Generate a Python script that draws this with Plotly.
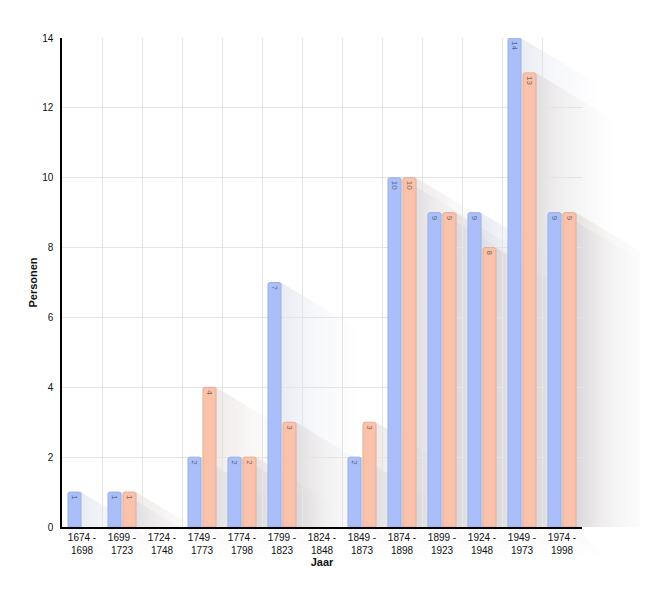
import plotly.graph_objects as go

categories = ["1674 -<br>1698", "1699 -<br>1723", "1724 -<br>1748", "1749 -<br>1773",
              "1774 -<br>1798", "1799 -<br>1823", "1824 -<br>1848", "1849 -<br>1873",
              "1874 -<br>1898", "1899 -<br>1923", "1924 -<br>1948", "1949 -<br>1973",
              "1974 -<br>1998"]
series_a = [1, 1, 0, 2, 2, 7, 0, 2, 10, 9, 9, 14, 9]
series_b = [0, 1, 0, 4, 2, 3, 0, 3, 10, 9, 8, 13, 9]
y_ticks = [0, 2, 4, 6, 8, 10, 12, 14]

# geometry (page pixels; page has 8px body margin)
W, H = 650, 601
PLOT_L, PLOT_R, PLOT_T, PLOT_B = 62, 582, 38, 527   # main plotting area on page
FULL_R, FULL_B = 640, 585                          # extended area for shadows
ml, mt = PLOT_L - 8, PLOT_T - 8
mr, mb = (W + 8) - FULL_R, (H + 8) - FULL_B
full_w, full_h = FULL_R - PLOT_L, FULL_B - PLOT_T
n = len(categories)
px_per_cat = (PLOT_R - PLOT_L) / n
px_per_unit = (PLOT_B - PLOT_T) / 14.0
dom_x_end = (PLOT_R - PLOT_L) / full_w
dom_y_start = (FULL_B - PLOT_B) / full_h
x_full_range = [-0.5, -0.5 + full_w / px_per_cat]
y_full_range = [14 - full_h / px_per_unit, 14]

bargap, bargroupgap = 0.25, 0.13
slot = (1 - bargap) / 2
bw = slot * (1 - bargroupgap)

fig = go.Figure()

# shadows (on hidden full-size axes x/y, drawn beneath the main subplot)
def add_shadow(xl, xr, v, rgb):
    if not v:
        return
    s = 0.6 * px_per_cat / px_per_unit       # y-units per x-unit of slope
    L = 80 / px_per_cat                       # fade length (x units)
    top_end = v - s * L
    if top_end >= 0:
        xs = [xr, xr + L, xr + L, xr, xr]
        ys = [v, top_end, 0, 0, v]
    else:
        xs = [xr, xr + v / s, xr, xr]
        ys = [v, 0, 0, v]
    fig.add_trace(go.Scatter(
        x=xs, y=ys, mode="lines", fill="toself", line=dict(width=0),
        fillgradient=dict(type="horizontal", start=xr, stop=xr + L, colorscale=[
            [0, f"rgba({rgb},0.20)"], [0.4, f"rgba({rgb},0.08)"], [1, f"rgba({rgb},0)"]]),
        xaxis="x", yaxis="y", showlegend=False, hoverinfo="skip"))
    # faint projection below the axis
    d = 0.75
    hb = 0.9
    fig.add_trace(go.Scatter(
        x=[xl, xr, xr + d, xl + d, xl], y=[0, 0, -hb, -hb, 0],
        mode="lines", fill="toself", line=dict(width=0),
        fillgradient=dict(type="vertical", start=-hb, stop=0, colorscale=[
            [0, f"rgba({rgb},0)"], [1, f"rgba({rgb},0.07)"]]),
        xaxis="x", yaxis="y", showlegend=False, hoverinfo="skip"))

for i in range(n):
    ca = i - slot / 2
    cb = i + slot / 2
    add_shadow(ca - bw / 2, ca + bw / 2, series_a[i], "150,160,200")
    add_shadow(cb - bw / 2, cb + bw / 2, series_b[i], "170,150,140")

xs_idx = list(range(n))

def vals(v):
    return [x if x else None for x in v]

def labels(v):
    return [str(x) if x else "" for x in v]

fig.add_trace(go.Bar(
    x=xs_idx, y=vals(series_a), text=labels(series_a), xaxis="x2", yaxis="y2",
    marker=dict(color="#aabff9", line=dict(color="#9cb0e4", width=1), cornerradius=2),
    textposition="inside", insidetextanchor="end", textangle=90,
    textfont=dict(size=8, color="#5b6484"), showlegend=False, hoverinfo="skip"))
fig.add_trace(go.Bar(
    x=xs_idx, y=vals(series_b), text=labels(series_b), xaxis="x2", yaxis="y2",
    marker=dict(color="#fbc2ab", line=dict(color="#e2ae9b", width=1), cornerradius=2),
    textposition="inside", insidetextanchor="end", textangle=90,
    textfont=dict(size=8, color="#806458"), showlegend=False, hoverinfo="skip"))

fig.update_layout(
    width=W, height=H,
    margin=dict(l=ml, r=mr, t=mt, b=mb, autoexpand=False),
    paper_bgcolor="white", plot_bgcolor="rgba(0,0,0,0)",
    font=dict(family="Liberation Sans, Arial, sans-serif", size=10, color="#111"),
    barmode="group", bargap=bargap, bargroupgap=bargroupgap,
    uniformtext=dict(minsize=7, mode="show"),
    xaxis=dict(domain=[0, 1], range=x_full_range, visible=False, fixedrange=True),
    yaxis=dict(domain=[0, 1], range=y_full_range, visible=False, fixedrange=True),
    xaxis2=dict(
        domain=[0, dom_x_end], anchor="y2", range=[-0.5, n - 0.5],
        tickmode="array", tickvals=xs_idx, ticktext=categories,
        showgrid=False,
        minor=dict(tickmode="array", tickvals=[i - 0.5 for i in range(n + 1)],
                   showgrid=True, gridcolor="#e4e4e4", gridwidth=1, ticks=""),
        title=dict(text="<b>Jaar</b>", font=dict(size=11), standoff=4),
        showline=True, linecolor="#000", linewidth=1.5, ticks="", tickfont=dict(size=10),
    ),
    yaxis2=dict(
        domain=[dom_y_start, 1], anchor="x2", range=[0, 14],
        tickmode="array", tickvals=y_ticks,
        title=dict(text="<b>Personen</b>", font=dict(size=11), standoff=2),
        showgrid=True, gridcolor="#e4e4e4",
        showline=True, linecolor="#000", linewidth=1.5, ticks="", zeroline=False,
        tickfont=dict(size=10), ticklabelstandoff=5,
    ),
)
fig.write_html("out.html")
